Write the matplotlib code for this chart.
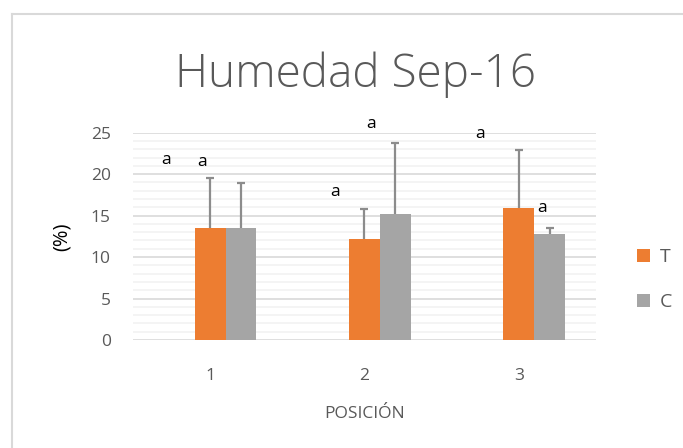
import numpy as np
import matplotlib.pyplot as plt
from matplotlib.ticker import MultipleLocator
from matplotlib.lines import Line2D

posiciones = ['1', '2', '3']
t_vals = [13.5, 12.15, 15.9]
t_err = [6.0, 3.7, 7.0]
c_vals = [13.55, 15.2, 12.8]
c_err = [5.35, 8.5, 0.7]
etiquetas = ['a', 'a', 'a', 'a', 'a', 'a']
etiq_x = [0.714, 0.948, 1.81, 2.045, 2.75, 3.15]
etiq_y = [21.7, 21.5, 17.85, 26.05, 24.85, 15.9]

plt.rcParams['font.family'] = ['Open Sans', 'DejaVu Sans']
gris = '#595959'

fig = plt.figure(figsize=(6.83, 4.48), dpi=100)
ax = fig.add_axes([0.1947, 0.2411, 0.6779, 0.4627])

x = np.arange(1, len(posiciones) + 1)
w = 0.2
ax.bar(x, t_vals, w, color='#ED7D31', label='T', zorder=3)
ax.bar(x + w, c_vals, w, color='#A5A5A5', label='C', zorder=3)
for xs, vals, errs in [(x, t_vals, t_err), (x + w, c_vals, c_err)]:
    _, caps, _ = ax.errorbar(xs, vals, yerr=[np.zeros(3), errs], fmt='none',
                             ecolor='#8C8C8C', elinewidth=1.6, capsize=2.8,
                             capthick=1.6, zorder=4)
    caps[0].set_visible(False)

for s, xx, yy in zip(etiquetas, etiq_x, etiq_y):
    ax.text(xx, yy, s, ha='center', va='center', fontsize=12.5, color='black',
            clip_on=False)

ax.set_xlim(0.5, 3.5)
ax.set_ylim(0, 25)
ax.yaxis.set_major_locator(MultipleLocator(5))
ax.yaxis.set_minor_locator(MultipleLocator(1))
ax.grid(axis='y', which='major', color='#D9D9D9', linewidth=1.2, zorder=0)
ax.grid(axis='y', which='minor', color='#F2F2F2', linewidth=1.2, zorder=0)
for sp in ax.spines.values():
    sp.set_visible(False)
ax.tick_params(axis='both', which='both', length=0, colors=gris, labelsize=12.5)
ax.tick_params(axis='y', pad=16)
ax.tick_params(axis='x', pad=20)
ax.set_xticks(x)
ax.set_xticklabels(posiciones)

ax.set_xlabel('POSICIÓN', color=gris, fontsize=12.5, labelpad=16)
ax.set_ylabel('(%)', color='black', fontsize=14.5, labelpad=14)
fig.text(0.521, 0.833, 'Humedad Sep-16', ha='center', va='center',
         fontsize=33, color=gris, fontweight='light')

ax.legend(loc='center left', bbox_to_anchor=(1.05, 0.29), frameon=False,
          fontsize=14, labelcolor=gris, handlelength=0.7, handleheight=0.7,
          labelspacing=1.4, handletextpad=0.5)

# marco del area del grafico
fig.add_artist(Line2D([0.0176, 0.0176], [0, 0.969], transform=fig.transFigure,
                      color='#D9D9D9', linewidth=1.5))
fig.add_artist(Line2D([0.0176, 1], [0.969, 0.969], transform=fig.transFigure,
                      color='#D9D9D9', linewidth=1.5))

plt.savefig('out.png', dpi=100)
